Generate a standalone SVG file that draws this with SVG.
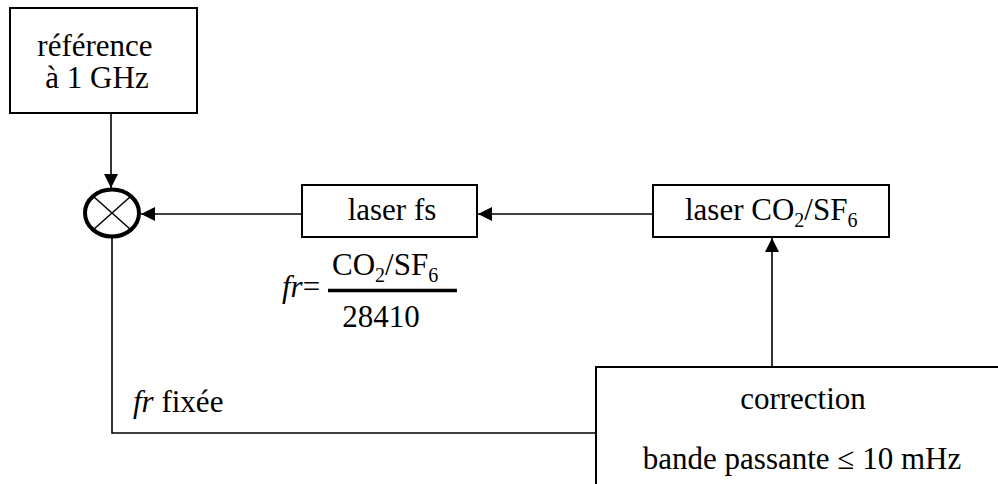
<svg xmlns="http://www.w3.org/2000/svg" width="998" height="484" viewBox="0 0 998 484">
<defs>
<style>
.t{font-family:'Liberation Serif',Tinos,'Times New Roman','DejaVu Serif',serif;font-size:31px;fill:#000}
.i{font-style:italic}
.box{fill:#fff;stroke:#000;stroke-width:2}
.ln{fill:none;stroke:#000;stroke-width:1.6}
</style>
<marker id="arr" markerUnits="userSpaceOnUse" viewBox="0 0 14 14" refX="14" refY="7" markerWidth="14" markerHeight="14" orient="auto">
<path d="M0,0 L14,7 L0,14 Z" fill="#000"/>
</marker>
</defs>
<rect width="998" height="484" fill="#fff"/>
<g id="connectors">
<line class="ln" x1="111" y1="113" x2="111" y2="188" marker-end="url(#arr)"/>
<line class="ln" x1="302" y1="214" x2="141" y2="214" marker-end="url(#arr)"/>
<line class="ln" x1="652" y1="214" x2="478" y2="214" marker-end="url(#arr)"/>
<line class="ln" x1="772" y1="367" x2="772" y2="238" marker-end="url(#arr)"/>
<polyline class="ln" points="112,238 112,433 596,433"/>
</g>
<g id="reference">
<rect class="box" x="10" y="8" width="187" height="105"/>
<text class="t" x="95" y="56" text-anchor="middle">référence</text>
<text class="t" x="97" y="88" text-anchor="middle">à 1 GHz</text>
</g>
<g id="mixer">
<ellipse cx="112" cy="213" rx="27" ry="23.5" fill="#fff" stroke="#000" stroke-width="4"/>
<line x1="94" y1="197" x2="130" y2="229" stroke="#000" stroke-width="1.5"/>
<line x1="94" y1="229" x2="130" y2="197" stroke="#000" stroke-width="1.5"/>
</g>
<g id="laser-fs">
<rect class="box" x="302" y="185" width="175" height="52"/>
<text class="t" x="392" y="220" text-anchor="middle">laser fs</text>
</g>
<g id="formula">
<text class="t" x="282" y="297"><tspan class="i">fr</tspan>=</text>
<line x1="328" y1="290.5" x2="457" y2="290.5" stroke="#000" stroke-width="3.5"/>
<text class="t" x="332" y="275">CO<tspan font-size="20" dy="7">2</tspan><tspan dy="-7">/SF</tspan><tspan font-size="20" dy="7">6</tspan></text>
<text class="t" x="381" y="327" text-anchor="middle">28410</text>
</g>
<g id="laser-co2">
<rect class="box" x="653" y="185" width="236" height="52"/>
<text class="t" x="685" y="220">laser CO<tspan font-size="20" dy="7">2</tspan><tspan dy="-7">/SF</tspan><tspan font-size="20" dy="7">6</tspan></text>
</g>
<g id="fr-label">
<text class="t" x="133" y="412"><tspan class="i">fr</tspan> fixée</text>
</g>
<g id="correction">
<rect class="box" x="596" y="367" width="420" height="140"/>
<text class="t" x="803" y="409" text-anchor="middle">correction</text>
<text class="t" x="802" y="469" text-anchor="middle">bande passante ≤ 10 mHz</text>
</g>
</svg>
